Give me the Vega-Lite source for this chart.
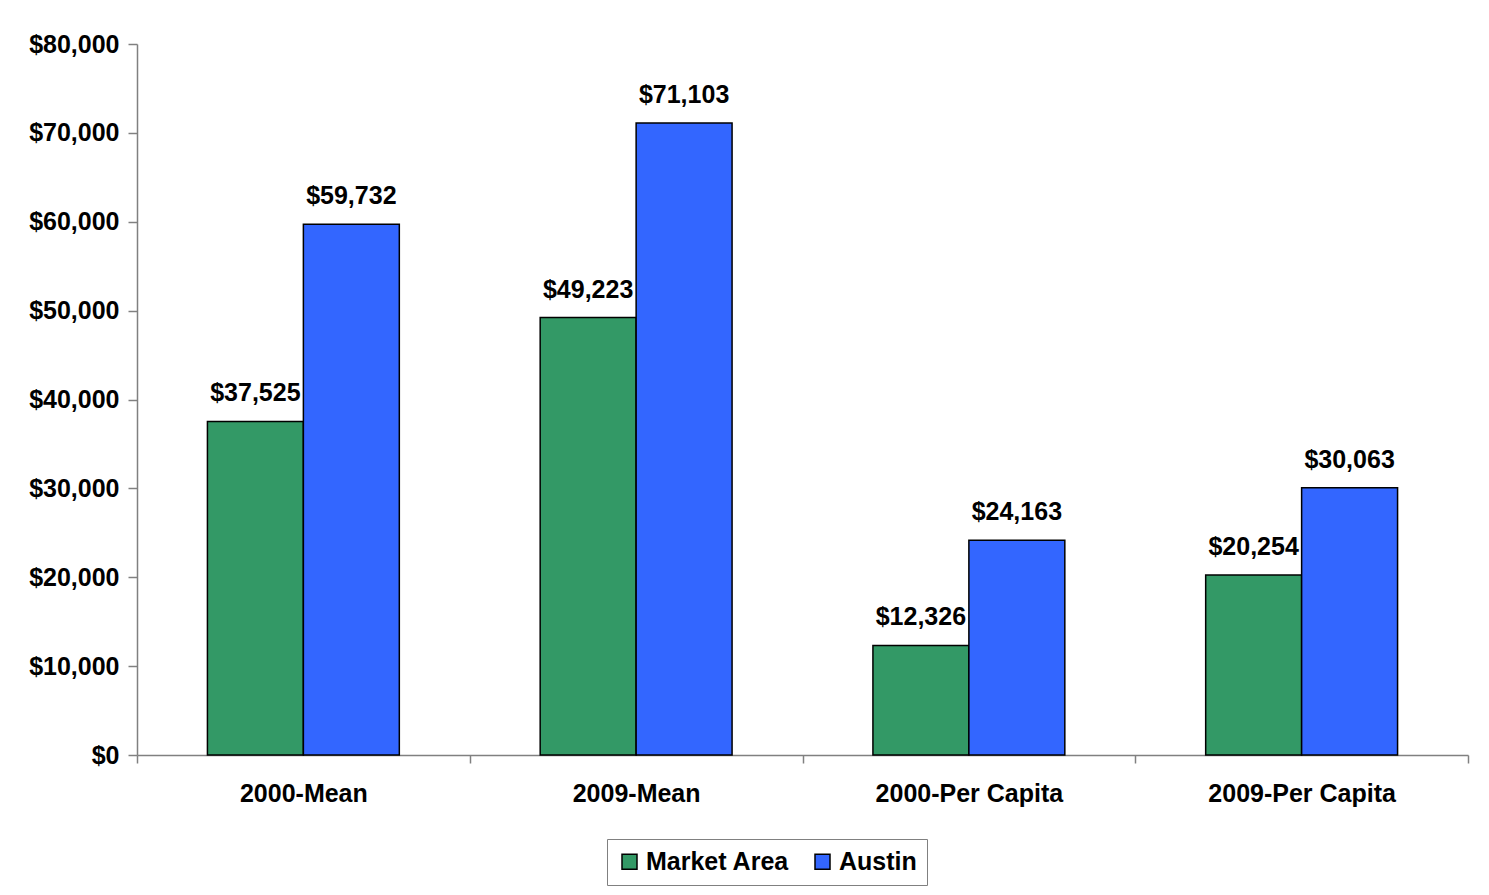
{
  "$schema": "https://vega.github.io/schema/vega-lite/v6.json",
  "width": 1331,
  "height": 711,
  "autosize": {"type": "none"},
  "padding": {"left": 137, "top": 44, "right": 21, "bottom": 140},
  "background": "white",
  "config": {
    "view": {"stroke": null},
    "font": "Liberation Sans",
    "axis": {"labelFont": "Liberation Sans", "labelFontWeight": "bold", "labelColor": "black", "domainColor": "#808080", "tickColor": "#808080", "domainWidth": 1.5, "tickWidth": 1.5, "labelOverlap": false, "labelLimit": 0}
  },
  "data": {
    "values": [
      {"category": "2000-Mean", "series": "Market Area", "value": 37525},
      {"category": "2000-Mean", "series": "Austin", "value": 59732},
      {"category": "2009-Mean", "series": "Market Area", "value": 49223},
      {"category": "2009-Mean", "series": "Austin", "value": 71103},
      {"category": "2000-Per Capita", "series": "Market Area", "value": 12326},
      {"category": "2000-Per Capita", "series": "Austin", "value": 24163},
      {"category": "2009-Per Capita", "series": "Market Area", "value": 20254},
      {"category": "2009-Per Capita", "series": "Austin", "value": 30063}
    ]
  },
  "encoding": {
    "x": {
      "field": "category", "type": "nominal", "sort": null,
      "scale": {"paddingInner": 0, "paddingOuter": 0},
      "axis": {"title": null, "labelAngle": 0, "labelFontSize": 25, "tickBand": "extent", "tickSize": 8, "labelPadding": 18, "grid": false, "labelLimit": 400}
    },
    "xOffset": {
      "field": "series", "type": "nominal", "sort": ["Market Area", "Austin"],
      "scale": {"paddingInner": 0, "paddingOuter": 0.734}
    },
    "y": {
      "field": "value", "type": "quantitative",
      "scale": {"domain": [0, 80000], "nice": false},
      "axis": {"title": null, "format": "$,.0f", "values": [0,10000,20000,30000,40000,50000,60000,70000,80000], "labelFontSize": 25, "tickSize": 9, "labelPadding": 9, "grid": false}
    }
  },
  "layer": [
    {
      "mark": {"type": "bar", "stroke": "black", "strokeWidth": 1.5},
      "encoding": {
        "color": {
          "field": "series", "type": "nominal", "sort": ["Market Area", "Austin"],
          "scale": {"domain": ["Market Area", "Austin"], "range": ["#339966", "#3366FF"]},
          "legend": {
            "title": null, "orient": "none", "direction": "horizontal",
            "legendX": 470, "legendY": 795,
            "symbolType": "square", "symbolSize": 225, "symbolStrokeColor": "black", "symbolStrokeWidth": 1.5,
            "labelFont": "Liberation Sans", "labelFontWeight": "bold", "labelFontSize": 25, "labelColor": "black",
            "labelOffset": 4, "columnPadding": 20, "labelLimit": 400,
            "strokeColor": "#808080", "padding": 10, "fillColor": "white"
          }
        }
      }
    },
    {
      "mark": {"type": "text", "baseline": "alphabetic", "dy": -20, "fontSize": 25, "fontWeight": "bold", "color": "black", "font": "Liberation Sans"},
      "encoding": {
        "text": {"field": "value", "type": "quantitative", "format": "$,.0f"}
      }
    }
  ]
}
